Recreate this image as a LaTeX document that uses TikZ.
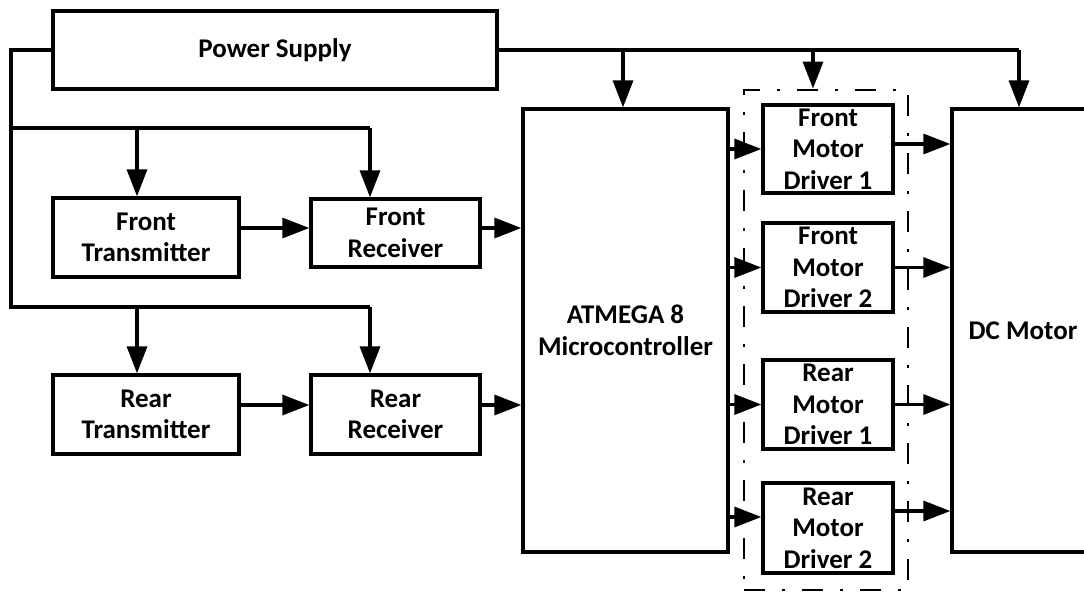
\documentclass[tikz,border=0pt]{standalone}
\usepackage{fontspec}
\setmainfont{Carlito}
\usepackage{tikz}
\usetikzlibrary{arrows.meta,calc,positioning}

\begin{document}
\begin{tikzpicture}[x=1pt,y=-1pt,
    block/.style={draw,line width=3.3pt,rectangle,inner sep=0pt,align=center,
        font=\bfseries\fontsize{27}{31.5}\selectfont},
    wire/.style={line width=3.3pt},
    flow/.style={line width=3.3pt,-{Triangle[length=27pt,width=20pt]}},
    group/.style={draw,line width=2.8pt,dash pattern=on 21pt off 17pt on 3pt off 17pt,
        inner sep=0pt}]
\path[use as bounding box,clip] (0,0) rectangle (1084,592);
\fill[white] (0,0) rectangle (1084,592);

\node[block,minimum width=444pt,minimum height=78pt] (ps) at (275,50) {Power Supply};
\node[block,minimum width=186pt,minimum height=79pt] (ftx) at (146,237.5) {Front\\Transmitter};
\node[block,minimum width=169pt,minimum height=68pt] (frx) at (395.5,233) {Front\\Receiver};
\node[block,minimum width=186pt,minimum height=79pt] (rtx) at (146,414.5) {Rear\\Transmitter};
\node[block,minimum width=169pt,minimum height=79pt] (rrx) at (395.5,414.5) {Rear\\Receiver};
\node[block,minimum width=205pt,minimum height=443pt] (mcu) at (625.5,330.5) {ATMEGA 8\\Microcontroller};
\node[group,minimum width=164pt,minimum height=500pt] (drv) at (826,340) {};
\node[block,minimum width=130pt,minimum height=88pt] (fmd1) at (828,149) {Front\\Motor\\Driver 1};
\node[block,minimum width=130pt,minimum height=89pt] (fmd2) at (828,267.5) {Front\\Motor\\Driver 2};
\node[block,minimum width=130pt,minimum height=89pt] (rmd1) at (828,404.5) {Rear\\Motor\\Driver 1};
\node[block,minimum width=130pt,minimum height=90pt] (rmd2) at (828,528) {Rear\\Motor\\Driver 2};
\node[block,minimum width=142pt,minimum height=443pt] (motor) at (1023,330.5) {DC Motor};

\coordinate (fbus) at (11,128);
\coordinate (rbus) at (11,307);
\coordinate (ftap1) at (137,128);
\coordinate (ftap2) at (370,128);
\coordinate (rtap1) at (137,307);
\coordinate (rtap2) at (370,307);
\coordinate (ptap1) at (623,50);
\coordinate (ptap2) at (813,50);
\coordinate (ptap3) at (1019,50);

\draw[wire] (ps.west) -| (rbus) -- (rtap2);
\draw[wire] (fbus) -- (ftap2);
\draw[flow] (ftap1) -- (ftap1 |- ftx.north);
\draw[flow] (ftap2) -- (ftap2 |- frx.north);
\draw[flow] (rtap1) -- (rtap1 |- rtx.north);
\draw[flow] (rtap2) -- (rtap2 |- rrx.north);

\draw[wire] (ps.east) -- (ptap3);
\draw[flow] (ptap1) -- (ptap1 |- mcu.north);
\draw[flow] (ptap2) -- (ptap2 |- drv.north);
\draw[flow] (ptap3) -- (ptap3 |- motor.north);

\draw[flow] ([yshift=5pt]frx.west -| ftx.east) -- ([yshift=5pt]frx.west);
\draw[flow] ([yshift=5pt]frx.east) -- ([yshift=5pt]frx.east -| mcu.west);
\draw[flow] ([yshift=9.5pt]rtx.east) -- ([yshift=9.5pt]rrx.west);
\draw[flow] ([yshift=9.5pt]rrx.east) -- ([yshift=9.5pt]rrx.east -| mcu.west);

\draw[flow] (fmd1.west -| mcu.east) -- (fmd1.west);
\draw[flow] (fmd2.west -| mcu.east) -- (fmd2.west);
\draw[flow] (rmd1.west -| mcu.east) -- (rmd1.west);
\draw[flow] ([yshift=11pt]rmd2.west -| mcu.east) -- ([yshift=11pt]rmd2.west);

\draw[flow] ([yshift=5pt]fmd1.east) -- ([yshift=5pt]fmd1.east -| motor.west);
\draw[flow] (fmd2.east) -- (fmd2.east -| motor.west);
\draw[flow] (rmd1.east) -- (rmd1.east -| motor.west);
\draw[flow] ([yshift=17pt]rmd2.east) -- ([yshift=17pt]rmd2.east -| motor.west);
\end{tikzpicture}
\end{document}
